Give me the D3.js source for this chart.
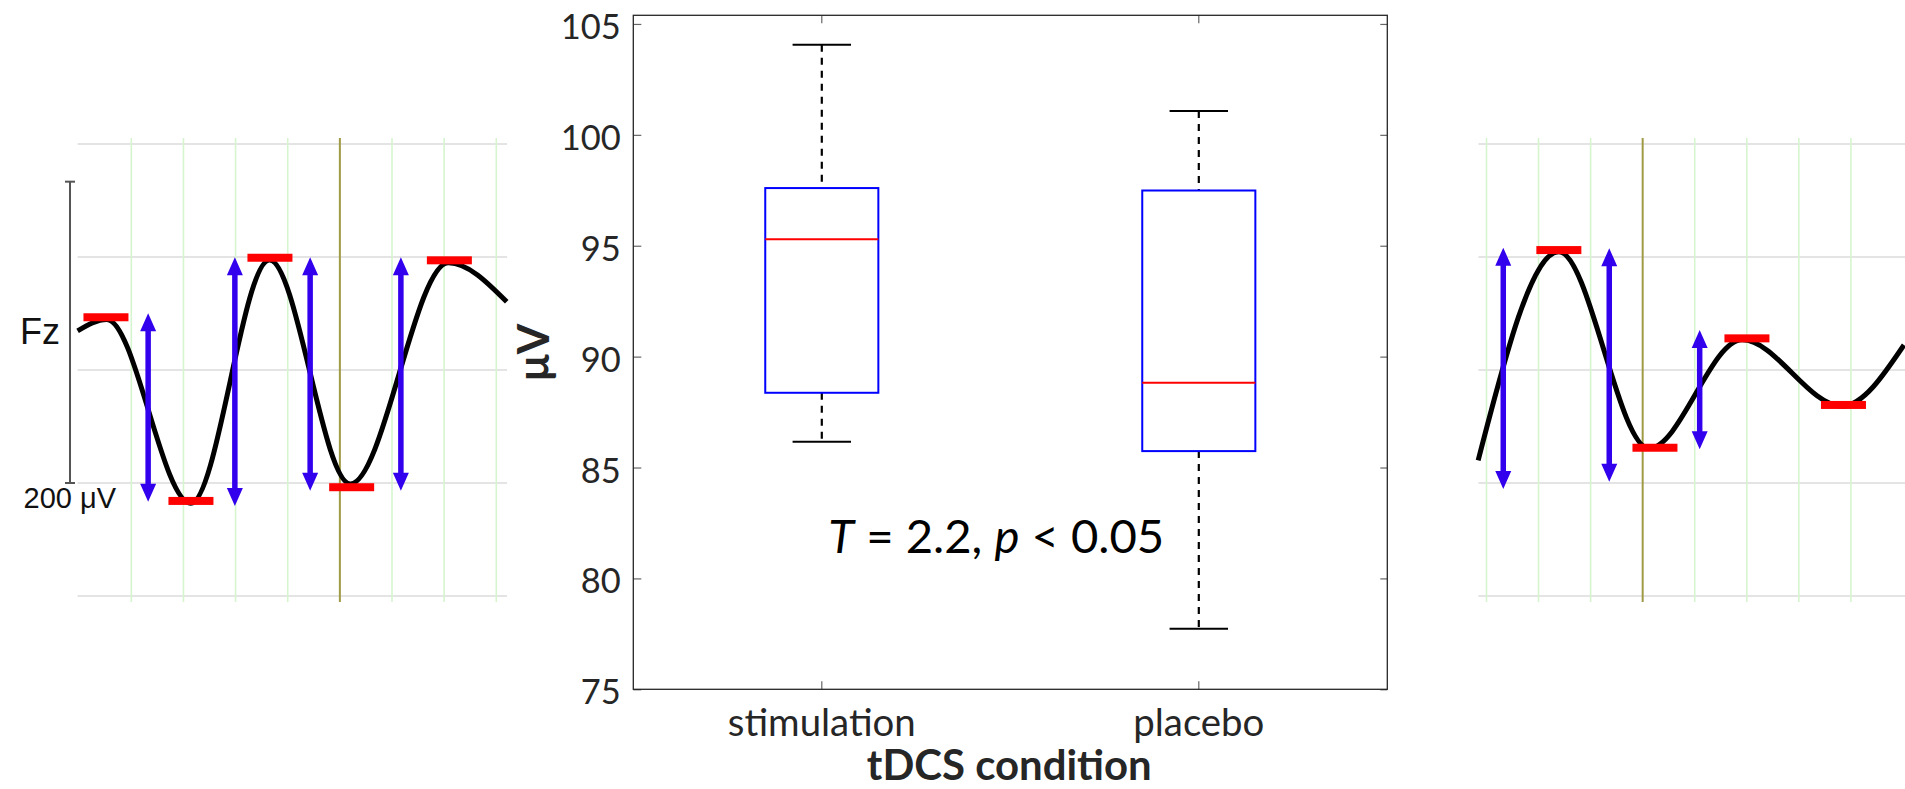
<!DOCTYPE html>
<html>
<head>
<meta charset="utf-8">
<script src="https://cdn.jsdelivr.net/npm/d3@7/dist/d3.min.js"></script>
<style>
html, body { margin: 0; padding: 0; background: #fff; overflow: hidden; }
svg { display: block; }
</style>
</head>
<body>
<svg id="chart" width="1905" height="789"></svg>
<script>
// ================= DATA =================
// Box plot (centre panel)
const categories   = ["stimulation", "placebo"];
const lowerWhisker = [86.16, 77.73];
const quartile1    = [88.37, 85.74];
const medians      = [95.29, 88.82];
const quartile3    = [97.60, 97.49];
const upperWhisker = [104.06, 101.07];
const yTickValues  = [75, 80, 85, 90, 95, 100, 105];
const yDomain      = [75, 105.39];
const yLabelText   = "μV";
const xLabelText   = "tDCS condition";
const statParts    = [
  { text: "T", italic: true },
  { text: " = 2.2, ", italic: false },
  { text: "p", italic: true },
  { text: " < 0.05", italic: false }
];

// EEG panels (time in ms, amplitude in µV)
const gridAmplitudes  = [-150, -75, 0, 75, 150];
const leftGridTimes   = [-400, -300, -200, -100, 0, 100, 200, 300];
const rightGridTimes  = [-300, -200, -100, 0, 100, 200, 300, 400];

const leftTraceT  = [-503, -447, -286, -135, 20, 208, 320];
const leftTraceV  = [26, 33.6, -88.5, 73, -75.6, 71.2, 45.3];
const leftPeakT   = [-448.6, -285.6, -134.1, 22.6, 210];
const leftPeakV   = [35.0, -86.9, 74.5, -77.8, 72.8];
const leftArrowT      = [-367.7, -201.4, -57, 117];
const leftArrowTop    = [37.6, 74.8, 74.8, 74.8];
const leftArrowBottom = [-87.4, -90.2, -80.1, -80.1];

const rightTraceT = [-316, -161, 12, 191, 383, 502];
const rightTraceV = [-60, 78.5, -52, 20, -24, 16.6];
const rightPeakT  = [-161, 23.6, 200.3, 385.7];
const rightPeakV  = [79.6, -51.6, 21, -23.2];
const rightArrowT      = [-267.8, -64.2, 109.5];
const rightArrowTop    = [81.2, 80.8, 26.5];
const rightArrowBottom = [-79, -74.1, -52.6];

const channelLabel   = "Fz";
const scaleBarLabel  = "200 μV";
const scaleBarRange  = [-75, 125];

// ================= DRAW =================
const svg = d3.select("#chart");

function fitWidth(textSel, target) {
  const node = textSel.node();
  const fs = parseFloat(textSel.attr("font-size"));
  const w = node.getComputedTextLength();
  if (w > 0) textSel.attr("font-size", fs * target / w);
  return textSel;
}

// ---------- EEG panel ----------
function eegPanel(cfg) {
  const g = svg.append("g");
  const x = d3.scaleLinear().domain(cfg.tDomain).range(cfg.xRange);
  const y = d3.scaleLinear().domain([-150, 150]).range([596, 144]);

  g.selectAll("line.h").data(gridAmplitudes).join("line")
    .attr("x1", x(cfg.hExtent[0])).attr("x2", x(cfg.hExtent[1]))
    .attr("y1", d => y(d)).attr("y2", d => y(d))
    .attr("stroke", "#e4e4e4").attr("stroke-width", 2);

  g.selectAll("line.v").data(cfg.gridTimes).join("line")
    .attr("x1", d => x(d)).attr("x2", d => x(d))
    .attr("y1", y(154)).attr("y2", y(-154))
    .attr("stroke", d => d === 0 ? "#a09a45" : "#d6f5cf")
    .attr("stroke-width", d => d === 0 ? 2 : 1.6);

  const pts = cfg.traceT.map((t, i) => [t, cfg.traceV[i]]);
  const line = d3.line().x(d => x(d[0])).y(d => y(d[1])).curve(d3.curveMonotoneX);
  g.append("path").attr("d", line(pts))
    .attr("fill", "none").attr("stroke", "#000").attr("stroke-width", 5)
    .attr("stroke-linecap", "butt");

  const headL = 18, headW = 16;
  cfg.arrowT.forEach((t, i) => {
    const ax = x(t), yt = y(cfg.arrowTop[i]), yb = y(cfg.arrowBottom[i]);
    g.append("line")
      .attr("x1", ax).attr("x2", ax)
      .attr("y1", yt + headL - 1).attr("y2", yb - headL + 1)
      .attr("stroke", "#3300ee").attr("stroke-width", 5.5);
    g.append("path")
      .attr("d", `M${ax},${yt} L${ax + headW / 2},${yt + headL} L${ax - headW / 2},${yt + headL} Z` +
                 `M${ax},${yb} L${ax + headW / 2},${yb - headL} L${ax - headW / 2},${yb - headL} Z`)
      .attr("fill", "#3300ee");
  });

  cfg.peakT.forEach((t, i) => {
    g.append("rect")
      .attr("x", x(t) - 22.5).attr("y", y(cfg.peakV[i]) - 4)
      .attr("width", 45).attr("height", 8)
      .attr("fill", "#ff0000");
  });
  return { x, y, g };
}

const left = eegPanel({
  tDomain: [-400, 300], xRange: [131.3, 496.3], hExtent: [-503, 320.6],
  gridTimes: leftGridTimes, traceT: leftTraceT, traceV: leftTraceV,
  peakT: leftPeakT, peakV: leftPeakV,
  arrowT: leftArrowT, arrowTop: leftArrowTop, arrowBottom: leftArrowBottom
});
eegPanel({
  tDomain: [-300, 400], xRange: [1486.5, 1850.9], hExtent: [-315.5, 520],
  gridTimes: rightGridTimes, traceT: rightTraceT, traceV: rightTraceV,
  peakT: rightPeakT, peakV: rightPeakV,
  arrowT: rightArrowT, arrowTop: rightArrowTop, arrowBottom: rightArrowBottom
});

// scale bar + channel label (left panel)
{
  const y = left.y, g = left.g, bx = 70;
  g.append("line").attr("x1", bx).attr("x2", bx)
    .attr("y1", y(scaleBarRange[1])).attr("y2", y(scaleBarRange[0]))
    .attr("stroke", "#555").attr("stroke-width", 2);
  [scaleBarRange[0], scaleBarRange[1]].forEach(v => {
    g.append("line").attr("x1", bx - 5).attr("x2", bx + 5)
      .attr("y1", y(v)).attr("y2", y(v))
      .attr("stroke", "#555").attr("stroke-width", 2);
  });
  const fz = g.append("text").attr("x", 20).attr("y", 344)
    .attr("font-family", "'Liberation Sans', Arial, sans-serif")
    .attr("font-size", 38).attr("fill", "#111").text(channelLabel);
  fitWidth(fz, 40);
  const sb = g.append("text").attr("x", 23.5).attr("y", 508)
    .attr("font-family", "'Liberation Sans', Arial, sans-serif")
    .attr("font-size", 29).attr("fill", "#111").text(scaleBarLabel);
  fitWidth(sb, 92.5);
}

// ---------- Box plot ----------
const plotL = 633.3, plotR = 1387.3, plotT = 15.3, plotB = 689.3;
const FONT = "Lato, 'Open Sans', sans-serif";
const x = d3.scaleBand().domain(categories).range([plotL, plotR]).paddingInner(0).paddingOuter(0);
const y = d3.scaleLinear().domain(yDomain).range([plotB, plotT]);
const bw = x.bandwidth();
const cx = c => x(c) + bw / 2;

const gb = svg.append("g");

const yAxisG = gb.append("g").attr("transform", `translate(${plotL},0)`)
  .call(d3.axisLeft(y).tickValues(yTickValues).tickSize(-8).tickPadding(12.6).tickFormat(d3.format("d")));
yAxisG.select(".domain").remove();
yAxisG.selectAll(".tick line").attr("stroke", "#666").attr("stroke-width", 1.2);
yAxisG.selectAll(".tick text")
  .attr("font-family", FONT).attr("font-size", 36).attr("fill", "#262626").attr("dy", "0.42em");
{
  const t105 = yAxisG.selectAll(".tick text").filter(d => d === 105);
  const w = t105.node().getComputedTextLength();
  const fs = 36 * 60 / w;
  yAxisG.selectAll(".tick text").attr("font-size", fs);
}

const yAxisR = gb.append("g").attr("transform", `translate(${plotR},0)`)
  .call(d3.axisRight(y).tickValues(yTickValues).tickSize(-7).tickFormat(""));
yAxisR.select(".domain").remove();
yAxisR.selectAll(".tick line").attr("stroke", "#666").attr("stroke-width", 1.2);

const xAxisB = gb.append("g").attr("transform", `translate(0,${plotB})`)
  .call(d3.axisBottom(x).tickSize(-8).tickPadding(0));
xAxisB.select(".domain").remove();
xAxisB.selectAll(".tick line").attr("stroke", "#666").attr("stroke-width", 1.2);
xAxisB.selectAll(".tick text")
  .attr("font-family", FONT).attr("font-size", 37).attr("fill", "#262626")
  .attr("dy", null).attr("y", 736 - plotB);
{
  const ts = xAxisB.selectAll(".tick text").filter(d => d === "stimulation");
  const w = ts.node().getComputedTextLength();
  xAxisB.selectAll(".tick text").attr("font-size", 37 * 188 / w);
}

const xAxisT = gb.append("g").attr("transform", `translate(0,${plotT})`)
  .call(d3.axisTop(x).tickSize(-8).tickFormat(""));
xAxisT.select(".domain").remove();
xAxisT.selectAll(".tick line").attr("stroke", "#666").attr("stroke-width", 1.2);

gb.append("rect").attr("x", plotL).attr("y", plotT)
  .attr("width", plotR - plotL).attr("height", plotB - plotT)
  .attr("fill", "none").attr("stroke", "#262626").attr("stroke-width", 1.3);

const boxW = bw * 0.30, capW = bw * 0.155;
categories.forEach((c, i) => {
  const xc = cx(c);
  gb.append("line").attr("x1", xc).attr("x2", xc)
    .attr("y1", y(upperWhisker[i])).attr("y2", y(quartile3[i]))
    .attr("stroke", "#000").attr("stroke-width", 2.2).attr("stroke-dasharray", "7,6");
  gb.append("line").attr("x1", xc).attr("x2", xc)
    .attr("y1", y(quartile1[i])).attr("y2", y(lowerWhisker[i]))
    .attr("stroke", "#000").attr("stroke-width", 2.2).attr("stroke-dasharray", "7,6");
  [upperWhisker[i], lowerWhisker[i]].forEach(v => {
    gb.append("line").attr("x1", xc - capW / 2).attr("x2", xc + capW / 2)
      .attr("y1", y(v)).attr("y2", y(v))
      .attr("stroke", "#000").attr("stroke-width", 2);
  });
  gb.append("rect").attr("x", xc - boxW / 2).attr("y", y(quartile3[i]))
    .attr("width", boxW).attr("height", y(quartile1[i]) - y(quartile3[i]))
    .attr("fill", "none").attr("stroke", "#0000ff").attr("stroke-width", 2);
  gb.append("line").attr("x1", xc - boxW / 2).attr("x2", xc + boxW / 2)
    .attr("y1", y(medians[i])).attr("y2", y(medians[i]))
    .attr("stroke", "#ff0000").attr("stroke-width", 2);
});

const xt = gb.append("text").attr("x", (plotL + plotR) / 2 - 1).attr("y", 780)
  .attr("text-anchor", "middle").attr("font-family", FONT).attr("font-weight", 700)
  .attr("font-size", 40).attr("fill", "#262626").text(xLabelText);
fitWidth(xt, 285);

gb.append("text")
  .attr("transform", `translate(549,${(plotT + plotB) / 2}) rotate(-90)`)
  .attr("text-anchor", "middle").attr("font-family", FONT).attr("font-weight", 700)
  .attr("font-size", 44).attr("fill", "#262626").text(yLabelText);

const st = gb.append("text").attr("x", 828.3).attr("y", 553.3)
  .attr("font-family", FONT).attr("font-size", 46).attr("fill", "#000")
  .attr("xml:space", "preserve").style("white-space", "pre");
st.selectAll("tspan").data(statParts).join("tspan")
  .attr("font-style", d => d.italic ? "italic" : "normal")
  .text(d => d.text);
fitWidth(st, 336);
</script>
</body>
</html>
